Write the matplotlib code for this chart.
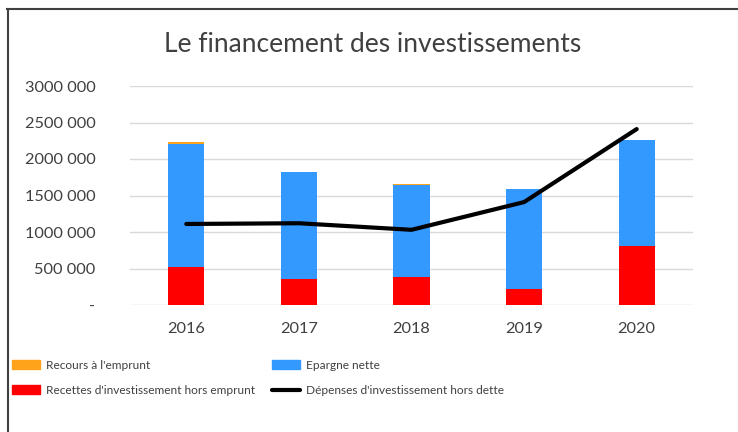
import numpy as np
import matplotlib.pyplot as plt
from matplotlib import font_manager
from matplotlib.lines import Line2D
from matplotlib.ticker import FuncFormatter

plt.rcParams['font.family'] = ['Lato', 'DejaVu Sans']

# data
years = ['2016', '2017', '2018', '2019', '2020']
recettes = [520000, 350000, 390000, 220000, 810000]      # Recettes d'investissement hors emprunt
epargne = [1690000, 1470000, 1250000, 1370000, 1450000]  # Epargne nette
emprunt = [25000, 0, 15000, 0, 0]                        # Recours à l'emprunt
depenses = [1110000, 1120000, 1030000, 1410000, 2410000] # Dépenses d'investissement hors dette

c_orange = '#FFA31A'
c_blue = '#3399FF'
c_red = '#FF0000'
txt = '#404040'


def fmt(v, pos):
    if v == 0:
        return '-'
    s = f'{int(v):,}'.replace(',', ' ')
    # excel style: "3000 000"
    parts = s.split(' ')
    if len(parts) == 3:
        s = parts[0] + parts[1] + ' ' + parts[2]
    return s


fig = plt.figure(figsize=(7.38, 4.32), dpi=100)
ax = fig.add_axes([130 / 738, 1 - 305 / 432, 563 / 738, 219 / 432])

x = np.arange(len(years))
w = 0.32
rec = np.array(recettes)
epa = np.array(epargne)
ax.bar(x, rec, w, color=c_red, zorder=2)
ax.bar(x, epa, w, bottom=rec, color=c_blue, zorder=2)
ax.bar(x, emprunt, w, bottom=rec + epa, color=c_orange, zorder=2)
ax.plot(x, depenses, color='black', lw=3, solid_capstyle='round', zorder=3)

ax.set_xlim(-0.5, len(years) - 0.5)
ax.set_ylim(0, 3000000)
ax.set_yticks(np.arange(0, 3000001, 500000))
ax.yaxis.set_major_formatter(FuncFormatter(fmt))
ax.set_xticks(x)
ax.set_xticklabels(years)
ax.grid(axis='y', color='#D9D9D9', lw=1, zorder=0)
for s in ax.spines.values():
    s.set_visible(False)
ax.tick_params(length=0, colors=txt, labelsize=11.8)
ax.tick_params(axis='y', pad=25)
ax.tick_params(axis='x', pad=12)

fig.text(0.5 + 4 / 738, 1 - 44 / 432, 'Le financement des investissements', ha='center', va='center',
         fontsize=19, color=txt)

# legend text in the reference is narrower than the ticks
leg_font = font_manager.FontProperties(family='Lato', size=8.6)
fs = leg_font.get_size_in_points() * 100 / 72

h_orange = plt.Rectangle((0, 0), 1, 1, color=c_orange)
h_red = plt.Rectangle((0, 0), 1, 1, color=c_red)
h_blue = plt.Rectangle((0, 0), 1, 1, color=c_blue)
h_line = Line2D([0], [0], color='black', lw=3, solid_capstyle='round')

leg_kw = dict(loc='upper left', frameon=False, prop=leg_font, labelcolor=txt,
              handlelength=28 / fs, handleheight=9 / fs, handletextpad=6 / fs,
              labelspacing=14 / fs, borderaxespad=0, borderpad=0)
leg1 = fig.legend([h_orange, h_red], ["Recours à l'emprunt", "Recettes d'investissement hors emprunt"],
                  bbox_to_anchor=(12 / 738, 1 - 360 / 432), **leg_kw)
leg2 = fig.legend([h_blue, h_line], ['Epargne nette', "Dépenses d'investissement hors dette"],
                  bbox_to_anchor=(272 / 738, 1 - 360 / 432), **leg_kw)

# outer frame (top and left only)
fig.add_artist(Line2D([7 / 738, 1], [1 - 8.5 / 432] * 2, color='#404040', lw=1.5))
fig.add_artist(Line2D([7.5 / 738] * 2, [0, 1 - 8.5 / 432], color='#404040', lw=1.5))

fig.savefig('out.png', dpi=100)
